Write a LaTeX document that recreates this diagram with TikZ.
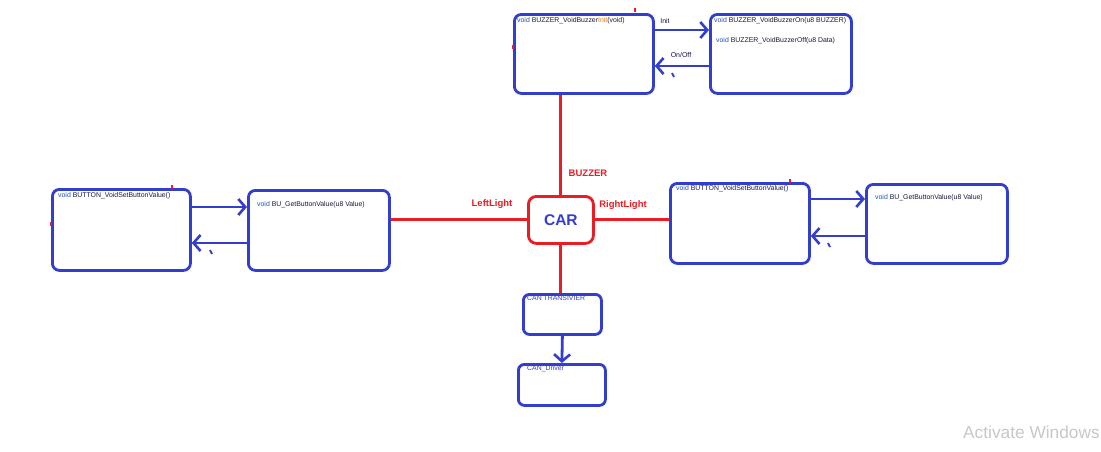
\documentclass[tikz,border=0pt]{standalone}
\usepackage{fontspec}
\setmainfont{Liberation Sans}
\usetikzlibrary{arrows.meta}
\definecolor{bl}{RGB}{52,62,205}
\definecolor{rd}{RGB}{236,28,36}
\definecolor{vd}{RGB}{30,80,190}
\definecolor{tx}{RGB}{25,25,60}
\definecolor{orn}{RGB}{215,120,20}
\definecolor{wm}{RGB}{200,200,200}
\newcommand{\vd}{\textcolor{vd}{void}}
\begin{document}
\begin{tikzpicture}[x=1pt,y=-1pt,
  blbox/.style={draw=bl,line width=2.8pt,rounded corners=7pt,inner sep=0pt,anchor=north west},
  rdbox/.style={draw=rd,line width=2.8pt,rounded corners=8pt,inner sep=0pt,anchor=north west},
  fn/.style={anchor=west,inner sep=0pt,text=tx,font=\fontsize{6.9}{8}\selectfont},
  lbl/.style={inner sep=0pt,text=rd,font=\bfseries\fontsize{9.5}{11}\selectfont},
  smalllbl/.style={inner sep=0pt,text=tx,font=\fontsize{7}{8}\selectfont},
  barr/.style={draw=bl,line width=2.8pt,-{Straight Barb[length=7pt,width=16pt,line width=2.6pt]}},
  rline/.style={draw=rd,line width=3pt},
  tick/.style={draw=bl,line width=1.8pt},
  rtick/.style={draw=rd,line width=2.2pt}]
\useasboundingbox (0,0) rectangle (1101,451);
\fill[white] (0,0) rectangle (1101,451);

% boxes
\node[blbox,minimum width=139,minimum height=79] (bi) at (513,13) {};
\node[blbox,minimum width=141,minimum height=79] (bo) at (709,13) {};
\node[blbox,minimum width=138,minimum height=81] (ll) at (51,188) {};
\node[blbox,minimum width=141,minimum height=80] (lr) at (247,189) {};
\node[blbox,minimum width=139,minimum height=80] (rl) at (669,182) {};
\node[blbox,minimum width=141,minimum height=79] (rr) at (865,183) {};
\node[rdbox,minimum width=65,minimum height=47] (car) at (527,195) {};
\node[blbox,minimum width=78,minimum height=40,rounded corners=6pt] (ct) at (522,293) {};
\node[blbox,minimum width=87,minimum height=41,rounded corners=6pt] (cd) at (517,363) {};

% texts in boxes
\node[fn] (tbi) at ([shift={(4,8)}]bi.north west) {\vd{} BUZZER\_VoidBuzzer\textcolor{orn}{Init}(void)};
\node[fn] (tbo1) at ([shift={(5,8)}]bo.north west) {\vd{} BUZZER\_VoidBuzzerOn(u8 BUZZER)};
\node[fn] (tbo2) at ([shift={(7,28)}]bo.north west) {\vd{} BUZZER\_VoidBuzzerOff(u8  Data)};
\node[fn] (tll) at ([shift={(7,8)}]ll.north west) {\vd{} BUTTON\_VoidSetButtonValue()};
\node[fn] (tlr) at ([shift={(10,16)}]lr.north west) {\vd{} BU\_GetButtonValue(u8 Value)};
\node[fn] (trl) at ([shift={(7,7)}]rl.north west) {\vd{} BUTTON\_VoidSetButtonValue()};
\node[fn] (trr) at ([shift={(10,15)}]rr.north west) {\vd{} BU\_GetButtonValue(u8 Value)};
\node[fn,text=bl] (tct) at ([shift={(5,5)}]ct.north west) {CAN TRANSIVIER};
\node[fn,text=bl] (tcd) at ([shift={(10,6)}]cd.north west) {CAN\_Driver};
\node[inner sep=0pt,text=bl,font=\bfseries\fontsize{15.5}{18}\selectfont] (tcar) at (car.center) {CAR};

% blue arrows
\draw[barr] ([shift={(0,17)}]bi.north east) -- ([shift={(0,17)}]bo.north west);
\draw[barr] ([shift={(0,53)}]bo.north west) -- ([shift={(0,53)}]bi.north east);
\draw[barr] ([shift={(0,19)}]ll.north east) -- ([shift={(0,18)}]lr.north west);
\draw[barr] ([shift={(0,54)}]lr.north west) -- ([shift={(0,55)}]ll.north east);
\draw[barr] ([shift={(0,17)}]rl.north east) -- ([shift={(0,16)}]rr.north west);
\draw[barr] ([shift={(0,53)}]rr.north west) -- ([shift={(0,54)}]rl.north east);
\draw[barr] (ct.south) -- (cd.north);

% arrow labels
\node[smalllbl] (linit) at (665,21) {Init};
\node[smalllbl] (lonoff) at (681,55) {On/Off};

% red connectors
\draw[rline] (car.north) -- (car.north |- bi.south);
\draw[rline] (car.west) -- (car.west -| lr.east);
\draw[rline] (car.east) -- (car.east -| rl.west);
\draw[rline] (car.south) -- (car.south |- ct.north);
\node[lbl] (lbuz) at (588,173) {BUZZER};
\node[lbl] (lleft) at (492,204) {LeftLight};
\node[lbl] (lright) at (623,205) {RightLight};

% small hand-drawn marks
\draw[tick] (672,73) -- (674,77);
\draw[tick] (210,250) -- (212,254);
\draw[tick] (828,243) -- (830,247);
\draw[rtick] (635,8) -- (635,12);
\draw[rtick] (513,45) -- (513,49);
\draw[rtick] (172,185) -- (172,189);
\draw[rtick] (51,222) -- (51,226);
\draw[rtick] (790,179) -- (790,183);

% watermark
\node[anchor=west,inner sep=0pt,text=wm,font=\fontsize{17.3}{19}\selectfont] (wm1) at (963,432) {Activate Windows};
\end{tikzpicture}
\end{document}
